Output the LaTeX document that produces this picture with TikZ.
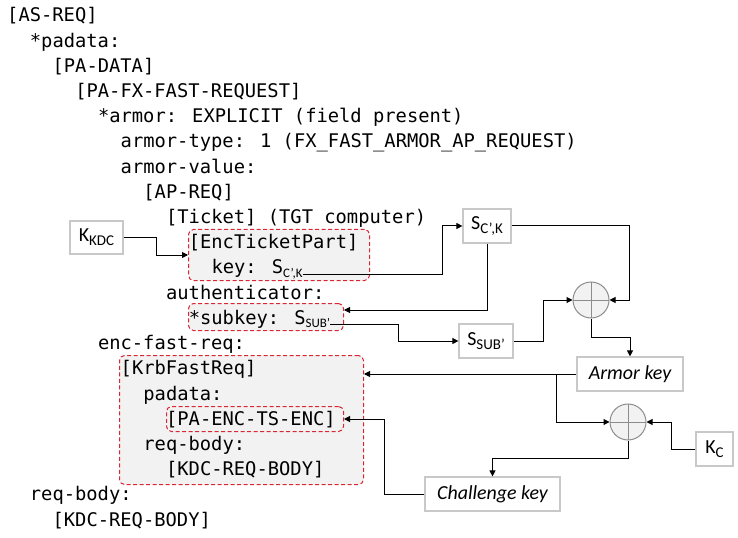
\documentclass[tikz,border=0pt]{standalone}
\usepackage{fontspec}
\usetikzlibrary{arrows.meta,calc}
\newfontfamily\cmono{DejaVu Sans Mono}
\newfontfamily\ccal{Carlito}
\definecolor{dred}{HTML}{D92630}
\definecolor{boxgray}{HTML}{F2F2F2}
\definecolor{edgegray}{HTML}{C8C8C8}
\definecolor{circgray}{HTML}{8C8C8C}
\newcommand{\lsub}[1]{\raisebox{-3.5bp}{\fontsize{13}{13}\selectfont\ccal #1}}
\newcommand{\bsub}[1]{\raisebox{-4bp}{\fontsize{15}{15}\selectfont #1}}
\begin{document}
\begin{tikzpicture}[x=1bp,y=-1bp,
  code/.style={anchor=base west, inner sep=0pt, font=\cmono\fontsize{18.85}{22}\selectfont},
  redbox/.style={draw=dred, dash pattern=on 4bp off 2.5bp, fill=boxgray, rounded corners=5bp, line width=1bp, inner sep=0pt, anchor=north west},
  keybox/.style={draw=edgegray, line width=1.2bp, fill=white, inner sep=0pt, font=\ccal\fontsize{20}{24}\selectfont},
  xorc/.style={circle, draw=circgray, fill=boxgray, minimum size=36bp, inner sep=0pt, line width=1bp,
    path picture={\draw[circgray,line width=1bp] (path picture bounding box.north) -- (path picture bounding box.south) (path picture bounding box.west) -- (path picture bounding box.east);}},
  arr/.style={-{Triangle[length=6bp,width=6bp]}, line width=1bp},
]
\useasboundingbox (0,0) rectangle (738,538);

% red dashed boxes
\node[redbox, minimum width=181bp, minimum height=51bp] (etp) at (188,229) {};
\node[redbox, minimum width=155bp, minimum height=27bp] (skb) at (188,303) {};
\node[redbox, minimum width=244bp, minimum height=129bp] (krb) at (119,355) {};
\node[redbox, minimum width=177bp, minimum height=25bp] (pae) at (166,406) {};

% code lines
\node[code] (l1) at (7+0*11.35, 22+0*25.2) {[AS-REQ]};
\node[code] (l2) at (7+2*11.35, 22+1*25.2) {*padata:};
\node[code] (l3) at (7+4*11.35, 22+2*25.2) {[PA-DATA]};
\node[code] (l4) at (7+6*11.35, 22+3*25.2) {[PA-FX-FAST-REQUEST]};
\node[code] (l5) at (7+8*11.35, 22+4*25.2) {*armor: EXPLICIT (field present)};
\node[code] (l6) at (7+10*11.35, 22+5*25.2) {armor-type: 1 (FX\_FAST\_ARMOR\_AP\_REQUEST)};
\node[code] (l7) at (7+10*11.35, 22+6*25.2) {armor-value:};
\node[code] (l8) at (7+12*11.35, 22+7*25.2) {[AP-REQ]};
\node[code] (l9) at (7+14*11.35, 22+8*25.2) {[Ticket] (TGT computer)};
\node[code] (l10) at (7+16*11.35, 22+9*25.2) {[EncTicketPart]};
\node[code] (key) at (7+18*11.35, 22+10*25.2) {key: S\lsub{C’,K}};
\node[code] (l12) at (7+14*11.35, 22+11*25.2) {authenticator:};
\node[code] (subk) at (7+16*11.35, 22+12*25.2) {*subkey: S\lsub{SUB’}};
\node[code] (l14) at (7+8*11.35, 22+13*25.2) {enc-fast-req:};
\node[code] (l15) at (7+10*11.35, 22+14*25.2) {[KrbFastReq]};
\node[code] (l16) at (7+12*11.35, 22+15*25.2) {padata:};
\node[code] (l17) at (7+14*11.35, 22+16*25.2) {[PA-ENC-TS-ENC]};
\node[code] (l18) at (7+12*11.35, 22+17*25.2) {req-body:};
\node[code] (l19) at (7+14*11.35, 22+18*25.2) {[KDC-REQ-BODY]};
\node[code] (l20) at (7+2*11.35, 22+19*25.2) {req-body:};
\node[code] (l21) at (7+4*11.35, 22+20*25.2) {[KDC-REQ-BODY]};

% key boxes
\node[keybox, minimum width=53bp, minimum height=33bp] (kkdc) at (96.5,237.5) {K\bsub{KDC}};
\node[keybox, minimum width=48bp, minimum height=34bp] (sck) at (487,226) {S\bsub{C’,K}};
\node[keybox, minimum width=54bp, minimum height=34bp] (ssub) at (486,341) {S\bsub{SUB’}};
\node[keybox, minimum width=106bp, minimum height=34bp] (armor) at (630,374) {\itshape Armor key};
\node[keybox, minimum width=37bp, minimum height=34bp] (kc) at (714.5,449) {K\bsub{C}};
\node[keybox, minimum width=135bp, minimum height=34bp] (chal) at (492.5,494) {\itshape Challenge key};
\node[xorc] (xor1) at (591,300) {};
\node[xorc] (xor2) at (628,422) {};

% connectors
\draw[arr] (kkdc.east) -- ++(33,0) |- (etp.west);
\draw[arr] (key.base east) -- (key.base east -| 442,0) |- (sck.west);
\draw[arr] (sck.south) |- (skb.east |- 0,310);
\draw[arr] (subk.base east) -- (subk.base east -| 398,0) |- (ssub.west);
\draw[arr] (ssub.east) -- ++(30,0) |- (xor1.west);
\draw[arr] (sck.east) -- ++(118,0) |- (xor1.east);
\draw[arr] (xor1.south) -- ++(0,19) -| (armor.north);
\draw[arr] (armor.west) -- (krb.east |- armor.west);
\draw[arr] (armor.west -| 556,0) |- (xor2.west);
\draw[arr] (kc.west) -- ++(-24,0) |- (xor2.east);
\draw[arr] (xor2.south) -- ++(0,18) -| (chal.north);
\draw[arr] (chal.west) -- ++(-40,0) |- (pae.east);
\end{tikzpicture}
\end{document}
